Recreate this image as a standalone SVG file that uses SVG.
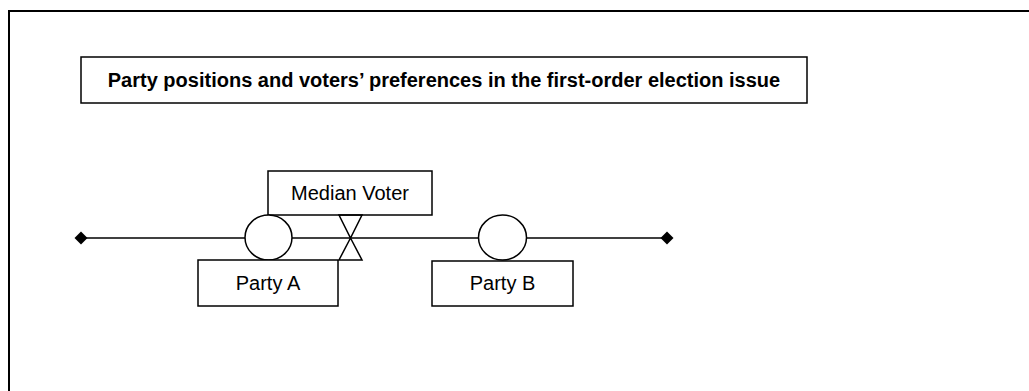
<svg xmlns="http://www.w3.org/2000/svg" width="1029" height="391" viewBox="0 0 1029 391">
<style>
.box{fill:#fff;stroke:#000;stroke-width:1.5}
.ln{fill:none;stroke:#000;stroke-width:1.5}
.t{font-family:"Liberation Sans",Arial,sans-serif;font-size:20px;fill:#000;text-anchor:middle}
.tb{font-weight:bold}
</style>
<defs>
<marker id="dia" viewBox="-7 -7 14 14" markerWidth="14" markerHeight="14" markerUnits="userSpaceOnUse" refX="0" refY="0" orient="auto">
<path d="M-6.5 0L0 -6.5L6.5 0L0 6.5Z" fill="#000"/>
</marker>
</defs>
<rect x="9" y="11" width="1100" height="500" fill="#fff" stroke="#000" stroke-width="2"/>
<g id="title">
<rect class="box" x="81" y="57" width="726" height="46"/>
<text class="t tb" x="444" y="87">Party positions and voters’ preferences in the first-order election issue</text>
</g>
<g id="connectors">
<line class="ln" x1="81" y1="238" x2="667" y2="238" marker-start="url(#dia)" marker-end="url(#dia)"/>
</g>
<g id="median-voter">
<rect class="box" x="268" y="171" width="164" height="44"/>
<text class="t" x="350" y="200">Median Voter</text>
<path class="ln" d="M339 215L362 215L350.5 238Z M350.5 238L339 260L362 260Z" fill="#fff"/>
</g>
<g id="party-a">
<ellipse class="box" cx="268.5" cy="237.5" rx="23.5" ry="22.5"/>
<rect class="box" x="198" y="260" width="140" height="46"/>
<text class="t" x="268" y="290">Party A</text>
</g>
<g id="party-b">
<ellipse class="box" cx="502.5" cy="237.5" rx="24" ry="22.5"/>
<rect class="box" x="432" y="261" width="141" height="45"/>
<text class="t" x="502.5" y="290">Party B</text>
</g>
</svg>
